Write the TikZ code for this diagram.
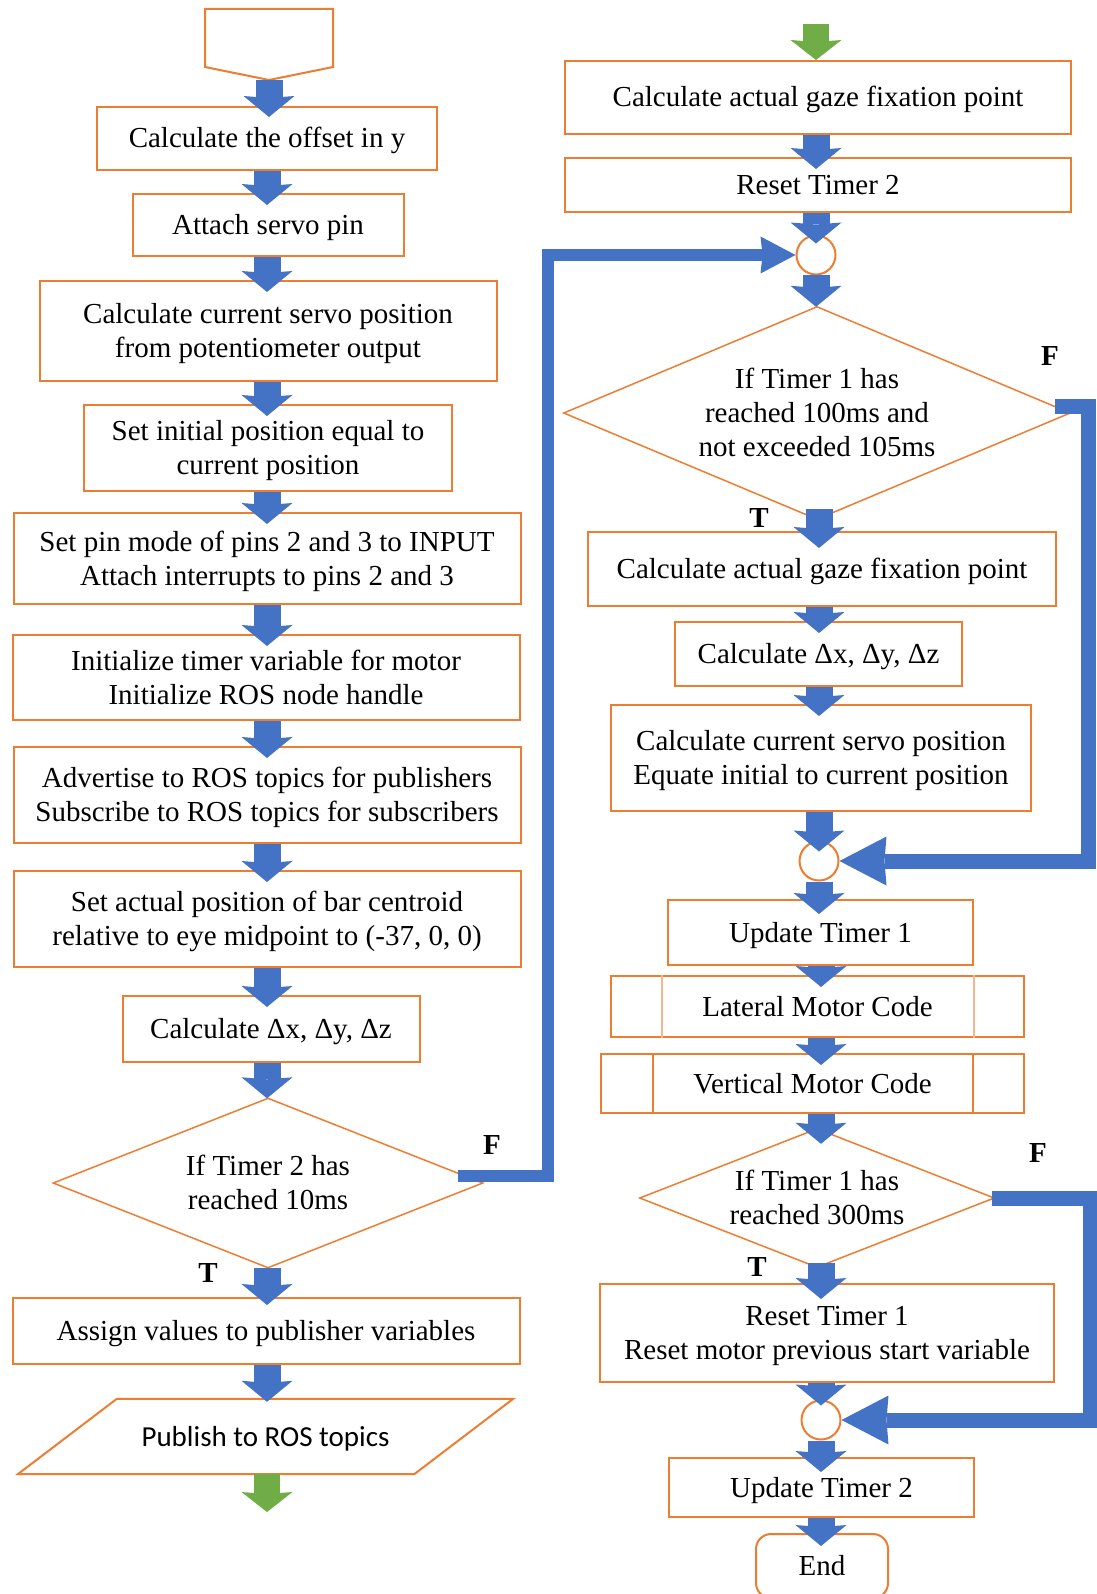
\documentclass[tikz,border=0pt]{standalone}
\usepackage{fontspec}
\setmainfont{Liberation Serif}
\newfontfamily\calibri{Carlito}
\usetikzlibrary{arrows.meta, positioning}

\definecolor{boxorange}{HTML}{ED7D31}
\definecolor{flowblue}{HTML}{4472C4}
\definecolor{flowgreen}{HTML}{70AD47}

\tikzset{
    outline/.style={draw=boxorange, line width=2pt},
    box/.style 2 args={outline, minimum width=#1pt, minimum height=#2pt},
    dec/.style 2 args={minimum width=#1pt, minimum height=#2pt},
    lines2/.style={text height=55pt},
    lines3/.style={text height=89pt},
    joint/.style={circle, outline, fill=white, minimum size=39pt},
    flow/.style={draw=flowblue, line width=27pt, -{Stealth[width=51pt, length=21pt, inset=2pt, line width=0pt]}},
    termflow/.style={draw=flowgreen, line width=26pt, -{Stealth[width=51pt, length=20pt, inset=2pt, line width=0pt]}},
    fback/.style n args={3}{draw=flowblue, line width=#1pt, line join=miter, -{Stealth[length=#2pt, width=#3pt, inset=2pt, line width=0pt]}},
    tf/.style={font=\fontsize{29pt}{34pt}\selectfont\bfseries}
}

\begin{document}
\begin{tikzpicture}[x=1pt, y=-1pt,
    every node/.style={font=\fontsize{29pt}{34pt}\selectfont, align=center, inner sep=0pt,
        text height=21pt, text depth=2pt}]
    \useasboundingbox (0,0) rectangle (1096,1594);

    % Left column
    \draw[outline] (205,9) -- (333,9) -- (333,67) -- (269,80) -- (205,67) -- cycle;
    \coordinate (init) at (269,80);
    \node[box={340}{63}] (offset) at (267,138.5) {Calculate the offset in y};
    \node[box={271}{62}] (attach) at (268,225) {Attach servo pin};
    \node[box={457}{100}, lines2] (servopos) at (268,331) {Calculate current servo position\\from potentiometer output};
    \node[box={368}{86}, lines2] (initpos) at (268,448) {Set initial position equal to\\current position};
    \node[box={507}{91}, lines2] (pinmode) at (267,558.5) {Set pin mode of pins 2 and 3 to INPUT\\Attach interrupts to pins 2 and 3};
    \node[box={507}{85}, lines2] (timervar) at (266,677.5) {Initialize timer variable for motor\\Initialize ROS node handle};
    \node[box={507}{96}, lines2] (advert) at (267,795) {Advertise to ROS topics for publishers\\Subscribe to ROS topics for subscribers};
    \node[box={507}{96}, lines2] (barpos) at (267,919) {Set actual position of bar centroid\\relative to eye midpoint to (-37, 0, 0)};
    \node[box={297}{66}] (delta) at (271,1029) {Calculate Δx, Δy, Δz};
    \node[dec={429}{169}, lines2] (tmr2) at (268,1183) {If Timer 2 has\\reached 10ms};
    \draw[outline, line width=1.5pt] (tmr2.north) -- (tmr2.east) -- (tmr2.south) -- (tmr2.west) -- cycle;
    \node[box={507}{66}] (assign) at (266,1331) {Assign values to publisher variables};
    \node[dec={297}{75}] (publish) at (265.5,1436.5) {\calibri Publish to ROS topics};
    \draw[outline] ([xshift=-99pt]publish.south west) -- (publish.south east) -- ([xshift=99pt]publish.north east) -- (publish.north west) -- cycle;
    \coordinate (leave) at (267,1512);

    \draw[flow] (init) -- ([yshift=-11pt]offset.north -| init);
    \draw[flow] (offset.south -| offset) -- ([yshift=-12pt]attach.north -| offset);
    \draw[flow] (attach.south -| offset) -- ([yshift=-12pt]servopos.north -| offset);
    \draw[flow] (servopos.south -| offset) -- ([yshift=-12pt]initpos.north -| offset);
    \draw[flow] (initpos.south -| offset) -- ([yshift=-12pt]pinmode.north -| offset);
    \draw[flow] (pinmode.south -| offset) -- ([yshift=-12pt]timervar.north -| offset);
    \draw[flow] (timervar.south -| offset) -- ([yshift=-12pt]advert.north -| offset);
    \draw[flow] (advert.south -| offset) -- ([yshift=-12pt]barpos.north -| offset);
    \draw[flow] (barpos.south -| offset) -- ([yshift=-12pt]delta.north -| offset);
    \draw[flow] (delta.south -| offset) -- (tmr2.north -| offset);
    \draw[flow] (tmr2.south -| offset) -- ([yshift=-8pt]assign.north -| offset);
    \draw[flow] (assign.south -| offset) -- ([yshift=-3pt]publish.north -| offset);
    \draw[termflow] (publish.south -| leave) -- (leave);

    \node[tf] (f1) at (492,1145) {F};
    \node[tf] (t1) at (208,1273) {T};

    % Right column
    \coordinate (enter) at (816,24);
    \node[box={506}{73}] (gaze) at (818,97.5) {Calculate actual gaze fixation point};
    \node[box={506}{54}] (reset2) at (818,185) {Reset Timer 2};
    \node[joint] (j1) at (816,255) {};
    \node[dec={506}{212}, lines3] (tmr1a) at (817,413) {If Timer 1 has\\reached 100ms and\\not exceeded 105ms};
    \draw[outline, line width=1.5pt] (tmr1a.north) -- (tmr1a.east) -- (tmr1a.south) -- (tmr1a.west) -- cycle;
    \node[box={468}{74}] (gaze2) at (822,569) {Calculate actual gaze fixation point};
    \node[box={287}{64}] (delta2) at (818.5,654) {Calculate Δx, Δy, Δz};
    \node[box={420}{106}, lines2] (servo2) at (821,758) {Calculate current servo position\\Equate initial to current position};
    \node[joint] (j2) at (819,861) {};
    \node[box={305}{65}] (upd1) at (820.5,932.5) {Update Timer 1};
    \node[box={413}{61}] (lateral) at (817.5,1006.5) {Lateral Motor Code};
    \draw[outline, draw=boxorange!55] ([xshift=52pt]lateral.north west) -- ([xshift=52pt]lateral.south west);
    \draw[outline, draw=boxorange!55] ([xshift=-51pt]lateral.north east) -- ([xshift=-51pt]lateral.south east);
    \node[box={423}{59}] (vertical) at (812.5,1083.5) {Vertical Motor Code};
    \draw[outline] ([xshift=53pt]vertical.north west) -- ([xshift=53pt]vertical.south west);
    \draw[outline] ([xshift=-52pt]vertical.north east) -- ([xshift=-52pt]vertical.south east);
    \node[dec={354}{138}, lines2] (tmr1b) at (817,1198) {If Timer 1 has\\reached 300ms};
    \draw[outline, line width=1.5pt] (tmr1b.north) -- (tmr1b.east) -- (tmr1b.south) -- (tmr1b.west) -- cycle;
    \node[box={454}{98}, lines2] (reset1) at (827,1333) {Reset Timer 1\\Reset motor previous start variable};
    \node[joint] (j3) at (821,1420) {};
    \node[box={305}{59}] (upd2) at (821.5,1487.5) {Update Timer 2};
    \node[box={132}{64}, rounded corners=15pt] (stop) at (822,1566) {End};

    \draw[termflow] (enter) -- (gaze.north -| enter);
    \draw[flow] (gaze.south -| j1) -- ([yshift=-12pt]reset2.north -| j1);
    \draw[flow] (reset2.south -| j1) -- ([yshift=-9pt]j1.north);
    \draw[flow] (j1.south) -- (tmr1a.north -| j1);
    \draw[flow] ([yshift=10pt]tmr1a.south -| j2) -- ([yshift=-17pt]gaze2.north -| j2);
    \draw[flow] (gaze2.south -| j2) -- ([yshift=-12pt]delta2.north -| j2);
    \draw[flow] (delta2.south -| j2) -- ([yshift=-12pt]servo2.north -| j2);
    \draw[flow] (servo2.south -| j2) -- ([yshift=-11pt]j2.north);
    \draw[flow] (j2.south) -- ([yshift=-15pt]upd1.north -| j2);
    \draw[flow] (upd1.south -| j3) -- ([yshift=-12pt]lateral.north -| j3);
    \draw[flow] (lateral.south -| j3) -- ([yshift=-12pt]vertical.north -| j3);
    \draw[flow] (vertical.south -| j3) -- ([yshift=-15pt]tmr1b.north -| j3);
    \draw[flow] ([yshift=4pt]tmr1b.south -| j3) -- ([yshift=-16pt]reset1.north -| j3);
    \draw[flow] (reset1.south -| j3) -- ([yshift=-6pt]j3.north);
    \draw[flow] (j3.south) -- ([yshift=-15pt]upd2.north -| j3);
    \draw[flow] (upd2.south -| j3) -- ([yshift=-13pt]stop.north -| j3);

    \node[tf] (f2) at (1050,356) {F};
    \node[tf] (t2) at (759,518) {T};
    \node[tf] (f3) at (1038,1153) {F};
    \node[tf] (t3) at (757,1267) {T};

    % False branches back to the joints
    \draw[fback={12}{35}{37}] ([xshift=-25pt,yshift=7pt]tmr2.east) -- ++(90,0) |- (j1.west);
    \draw[fback={15}{47}{49}] ([xshift=-15pt,yshift=7pt]tmr1a.east) -- ++(33,0) |- (j2.east);
    \draw[fback={15}{47}{49}] ([xshift=-2pt]tmr1b.east) -- ++(98,0) |- (j3.east);
\end{tikzpicture}
\end{document}
